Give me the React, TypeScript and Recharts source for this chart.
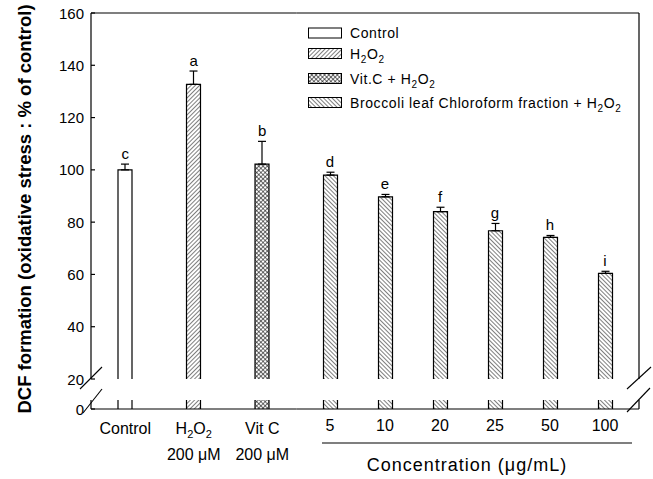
import React from 'react';
import { Bar, Cell, ComposedChart, ErrorBar, LabelList, Line, XAxis, YAxis } from 'recharts';

// treatments on the left, concentrations of the chloroform fraction on the right
const treatments = ['Control', 'H2O2', 'Vit C'];
const treatmentDoses = ['', '200 μM', '200 μM'];
const treatmentMeans = [100, 132.7, 102.2];
const treatmentErrors = [2.2, 5.1, 8.7];
const treatmentLetters = ['c', 'a', 'b'];
const treatmentKinds = ['control', 'h2o2', 'vitc'];

const concentrations = ['5', '10', '20', '25', '50', '100'];
const concentrationMeans = [98, 89.7, 84, 76.7, 74.2, 60.4];
const concentrationErrors = [1.1, 0.9, 1.7, 2.8, 0.7, 0.8];
const concentrationLetters = ['d', 'e', 'f', 'g', 'h', 'i'];

const legendLabels = ['Control', 'H2O2', 'Vit.C + H2O2', 'Broccoli leaf Chloroform fraction + H2O2'];
const legendKinds = ['control', 'h2o2', 'vitc', 'broccoli'];

const upperDomain = [20, 160];
const upperTicks = [20, 40, 60, 80, 100, 120, 140, 160];
const lowerDomain = [0, 3.44];
const lowerTicks = [0];

const FILLS: Record<string, string> = {
  control: '#ffffff',
  h2o2: 'url(#hatchFwd)',
  vitc: 'url(#hatchCross)',
  broccoli: 'url(#hatchBack)',
};

const W = 653;
const H = 479;
const AXIS = { stroke: '#000', strokeWidth: 1.2 };
const FONT = '"Liberation Sans", Arial, sans-serif';

const leftRows = treatments.map((name, i) => ({
  name,
  mean: treatmentMeans[i],
  err: [0, treatmentErrors[i]],
  cap: treatmentMeans[i] + treatmentErrors[i],
  letter: treatmentLetters[i],
  kind: treatmentKinds[i],
}));

const rightRows = concentrations.map((name, i) => ({
  name,
  mean: concentrationMeans[i],
  err: [0, concentrationErrors[i]],
  cap: concentrationMeans[i] + concentrationErrors[i],
  letter: concentrationLetters[i],
  kind: 'broccoli',
}));

function Chem({ text, sub }: { text: string; sub: number }) {
  const parts = text.split('H2O2');
  const out: React.ReactNode[] = [];
  parts.forEach((p, i) => {
    if (p) out.push(<tspan key={`p${i}`}>{p}</tspan>);
    if (i < parts.length - 1) {
      out.push(
        <tspan key={`h${i}`}>H</tspan>,
        <tspan key={`a${i}`} dy={4} fontSize={sub}>2</tspan>,
        <tspan key={`o${i}`} dy={-4}>O</tspan>,
        <tspan key={`b${i}`} dy={4} fontSize={sub}>2</tspan>,
        <tspan key={`r${i}`} dy={-4}>{''}</tspan>
      );
    }
  });
  return <>{out}</>;
}

const OpenBar = (props: any) => {
  const { x, y, width, height, fill } = props;
  if (!height || height <= 0) return null;
  return (
    <g>
      <rect x={x} y={y} width={width} height={height} fill={fill} stroke="none" />
      <path
        d={`M${x},${y + height}V${y}H${x + width}V${y + height}`}
        fill="none"
        stroke="#000"
        strokeWidth={1.2}
      />
    </g>
  );
};

const YTick = (props: any) => {
  const { x, y, payload } = props;
  return (
    <g>
      <line x1={x} x2={x + 4} y1={y} y2={y} stroke="#000" strokeWidth={1.2} />
      <text x={x - 7} y={y} textAnchor="end" dominantBaseline="central" fontSize={15} fill="#000">
        {payload.value}
      </text>
    </g>
  );
};

const LeftTick = (props: any) => {
  const { x, y, payload, index } = props;
  const dose = treatmentDoses[index];
  return (
    <g>
      <text x={x} y={y + 25} textAnchor="middle" fontSize={16} fill="#000">
        <Chem text={payload.value} sub={11} />
      </text>
      {dose && (
        <text x={x} y={y + 51} textAnchor="middle" fontSize={16} fill="#000">
          {dose}
        </text>
      )}
    </g>
  );
};

const RightTick = (props: any) => {
  const { x, y, payload } = props;
  return (
    <text x={x} y={y + 22} textAnchor="middle" fontSize={16} fill="#000">
      {payload.value}
    </text>
  );
};

const LEFT_END = 296.5;
const PAD = { left: 6, right: 6.5 };

function Panel({ rows, side, upper }: { rows: any[]; side: 'left' | 'right'; upper: boolean }) {
  const margin = {
    top: upper ? 12 : 400,
    bottom: upper ? 100 : 10,
    left: side === 'left' ? 41 : LEFT_END,
    right: side === 'left' ? W - LEFT_END : 13,
  };
  const domain = upper ? upperDomain : lowerDomain;
  return (
    <div style={{ position: 'absolute', left: 0, top: 0 }}>
      <ComposedChart width={W} height={H} data={rows} margin={margin} barSize={14}>
        {upper ? (
          // top frame line of the upper panel
          <XAxis
            dataKey="name"
            orientation="top"
            height={1}
            axisLine={AXIS}
            tick={false}
            tickLine={false}
            padding={side === 'right' ? PAD : undefined}
          />
        ) : (
          <XAxis
            dataKey="name"
            height={60}
            axisLine={AXIS}
            tickLine={false}
            tickSize={0}
            tickMargin={0}
            interval={0}
            padding={side === 'right' ? PAD : undefined}
            tick={side === 'left' ? <LeftTick /> : <RightTick />}
          />
        )}
        {side === 'left' ? (
          <YAxis
            type="number"
            domain={domain}
            ticks={upper ? upperTicks : lowerTicks}
            allowDataOverflow
            width={50}
            axisLine={AXIS}
            tickLine={false}
            tickSize={0}
            tickMargin={0}
            interval={0}
            tick={<YTick />}
          />
        ) : (
          // right frame line
          <YAxis
            type="number"
            orientation="right"
            domain={domain}
            allowDataOverflow
            width={1}
            axisLine={AXIS}
            tick={false}
            tickLine={false}
          />
        )}
        <Bar dataKey="mean" shape={<OpenBar />} isAnimationActive={false}>
          {rows.map((r) => (
            <Cell key={r.name} fill={FILLS[r.kind]} />
          ))}
          {upper && <ErrorBar dataKey="err" width={4} stroke="#000" strokeWidth={1.2} />}
        </Bar>
        {upper && (
          <Line dataKey="cap" stroke="none" dot={false} activeDot={false} isAnimationActive={false}>
            <LabelList dataKey="letter" position="top" offset={5} fontSize={15} fill="#000" />
          </Line>
        )}
      </ComposedChart>
    </div>
  );
}

function Patterns() {
  return (
    <svg width={0} height={0} style={{ position: 'absolute' }}>
      <defs>
        <pattern id="hatchFwd" width={3} height={3} patternUnits="userSpaceOnUse" patternTransform="rotate(45)">
          <rect width={3} height={3} fill="#fff" />
          <line x1={0} y1={0} x2={0} y2={3} stroke="#000" strokeWidth={1} />
        </pattern>
        <pattern id="hatchBack" width={3} height={3} patternUnits="userSpaceOnUse" patternTransform="rotate(-45)">
          <rect width={3} height={3} fill="#fff" />
          <line x1={0} y1={0} x2={0} y2={3} stroke="#000" strokeWidth={1} />
        </pattern>
        <pattern id="hatchCross" width={3} height={3} patternUnits="userSpaceOnUse" patternTransform="rotate(45)">
          <rect width={3} height={3} fill="#fff" />
          <line x1={0} y1={0} x2={0} y2={3} stroke="#000" strokeWidth={1.1} />
          <line x1={0} y1={0} x2={3} y2={0} stroke="#000" strokeWidth={1.1} />
        </pattern>
      </defs>
    </svg>
  );
}

function Overlay() {
  const legendY = [28, 48.5, 73.5, 97.5];
  return (
    <svg width={W} height={H} style={{ position: 'absolute', left: 0, top: 0, pointerEvents: 'none' }}>
      <text
        transform="translate(24,209) rotate(-90)"
        textAnchor="middle"
        dominantBaseline="central"
        fontSize={18.5}
        fontWeight="bold"
        fill="#000"
      >
        DCF formation (oxidative stress : % of control)
      </text>
      {/* axis breaks */}
      <g stroke="#000" strokeWidth={1.1}>
        <line x1={80} y1={389} x2={102} y2={367} />
        <line x1={83} y1={413} x2={102} y2={389} />
        <line x1={627} y1={389} x2={651} y2={367} />
        <line x1={627} y1={412} x2={650} y2={388} />
      </g>
      {legendLabels.map((label, i) => (
        <g key={label}>
          <rect x={308.5} y={legendY[i]} width={33} height={10} fill={FILLS[legendKinds[i]]} stroke="#000" strokeWidth={1} />
          <text x={350} y={legendY[i] + 10} fontSize={14} letterSpacing={0.6} fill="#000">
            <Chem text={label} sub={10} />
          </text>
        </g>
      ))}
      <line x1={322} y1={443} x2={632} y2={443} stroke="#000" strokeWidth={1.2} />
      <text x={467} y={471} textAnchor="middle" fontSize={18} letterSpacing={1} fill="#000">
        Concentration (μg/mL)
      </text>
    </svg>
  );
}

export default function App() {
  return (
    <div style={{ position: 'absolute', left: 0, top: 0, width: W, height: H, background: '#fff', fontFamily: FONT }}>
      <Patterns />
      <Panel rows={leftRows} side="left" upper />
      <Panel rows={rightRows} side="right" upper />
      <Panel rows={leftRows} side="left" upper={false} />
      <Panel rows={rightRows} side="right" upper={false} />
      <Overlay />
    </div>
  );
}
